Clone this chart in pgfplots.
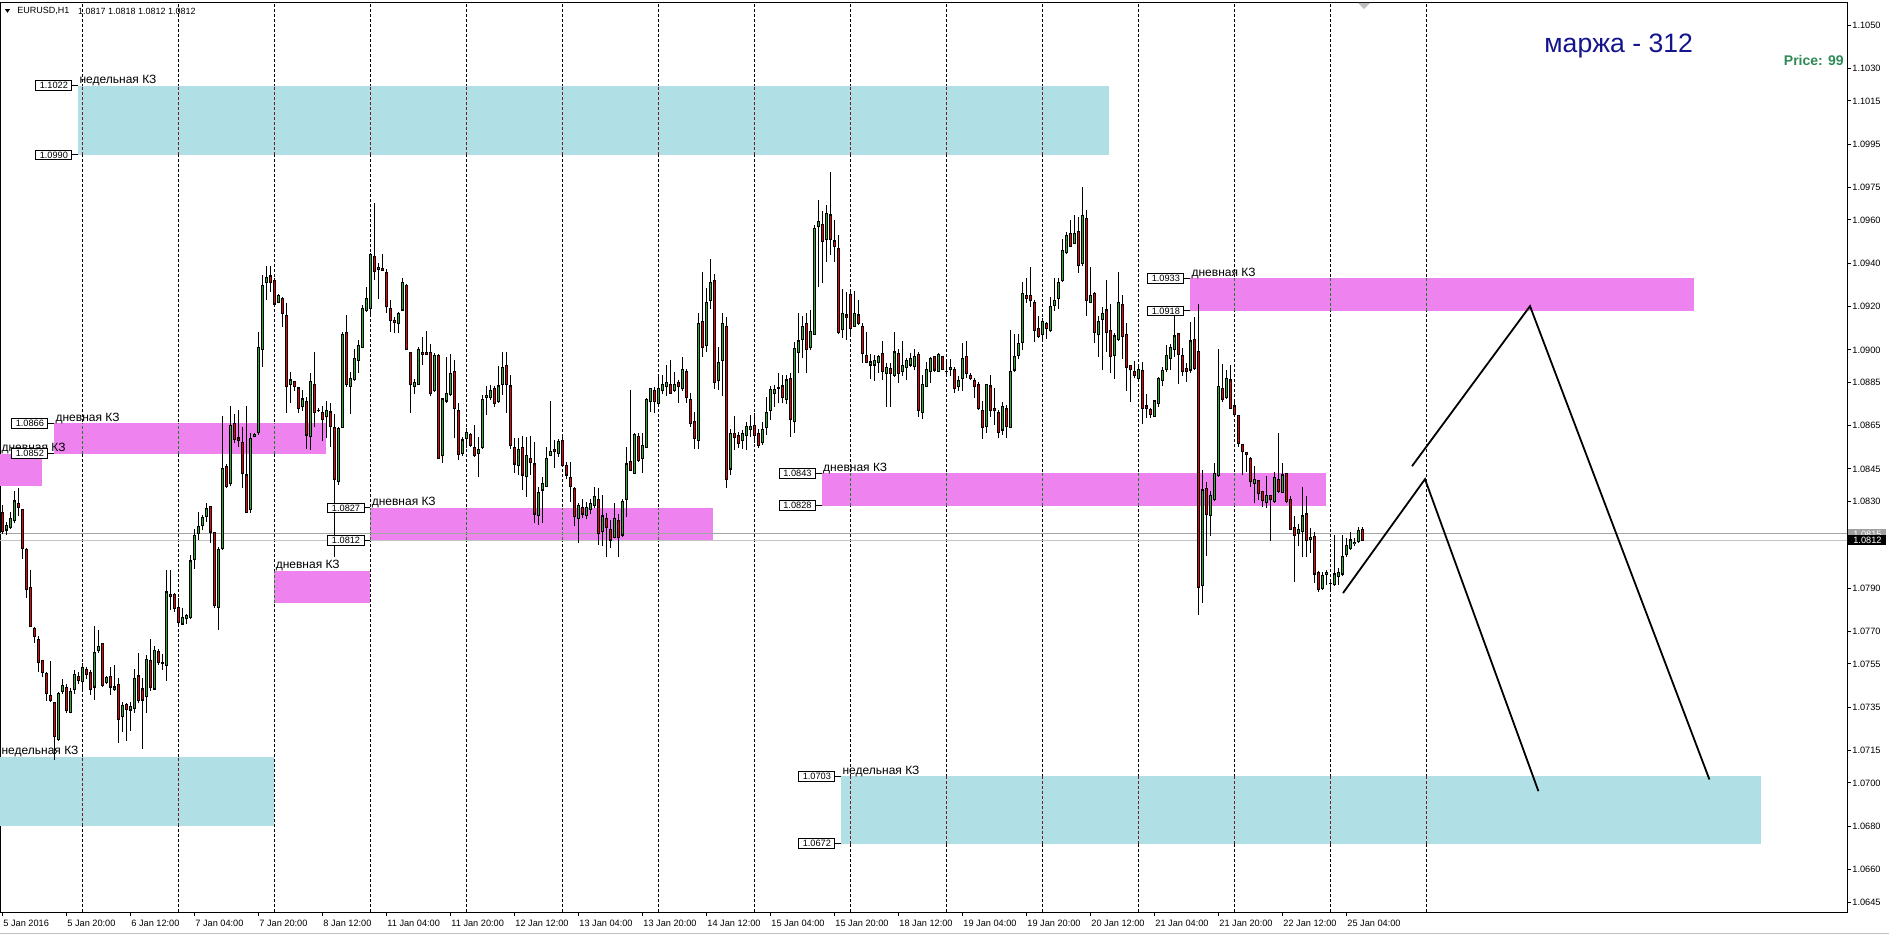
\documentclass[border=0pt]{standalone}
\usepackage{fontspec}
\setmainfont{Liberation Sans}
\usepackage{pgfplots}
\usepackage{pgfplotstable}
\pgfplotsset{compat=1.18}

\definecolor{bull}{RGB}{40,175,40}
\definecolor{bear}{RGB}{230,0,0}
\definecolor{weekzone}{RGB}{176,224,230}
\definecolor{dayzone}{RGB}{238,130,238}
\definecolor{sepweek}{RGB}{110,30,30}
\definecolor{sepday}{RGB}{30,130,30}
\definecolor{marginblue}{RGB}{20,20,140}
\definecolor{pricegreen}{RGB}{46,139,87}

% EURUSD H1 bars, i = bar number from 5 Jan 00:00 (weekend skipped)
\pgfplotstableread{
i o h l c
4 1.08248 1.08283 1.08148 1.08163
5 1.08168 1.08203 1.08143 1.08190
6 1.08179 1.08251 1.08171 1.08222
7 1.08211 1.08346 1.08200 1.08302
8 1.08291 1.08362 1.08235 1.08273
9 1.08264 1.08267 1.08036 1.08084
10 1.08076 1.08084 1.07853 1.07893
11 1.07904 1.07984 1.07718 1.07723
12 1.07714 1.07718 1.07647 1.07675
13 1.07663 1.07679 1.07512 1.07555
14 1.07564 1.07567 1.07491 1.07512
15 1.07504 1.07512 1.07380 1.07415
16 1.07405 1.07564 1.07376 1.07381
17 1.07373 1.07376 1.07106 1.07214
18 1.07202 1.07421 1.07194 1.07415
19 1.07424 1.07480 1.07411 1.07451
20 1.07440 1.07456 1.07321 1.07333
21 1.07324 1.07440 1.07321 1.07424
22 1.07432 1.07523 1.07411 1.07500
23 1.07491 1.07512 1.07456 1.07472
24 1.07467 1.07555 1.07424 1.07532
25 1.07523 1.07535 1.07480 1.07500
26 1.07512 1.07520 1.07408 1.07432
27 1.07443 1.07723 1.07383 1.07604
28 1.07612 1.07706 1.07599 1.07631
29 1.07645 1.07647 1.07443 1.07451
30 1.07464 1.07496 1.07456 1.07485
31 1.07492 1.07535 1.07408 1.07443
32 1.07430 1.07543 1.07424 1.07443
33 1.07453 1.07485 1.07186 1.07294
34 1.07305 1.07376 1.07233 1.07356
35 1.07364 1.07368 1.07194 1.07341
36 1.07337 1.07373 1.07241 1.07352
37 1.07345 1.07527 1.07321 1.07483
38 1.07494 1.07599 1.07368 1.07380
39 1.07434 1.07485 1.07157 1.07383
40 1.07399 1.07591 1.07321 1.07570
41 1.07564 1.07663 1.07424 1.07440
42 1.07434 1.07631 1.07427 1.07612
43 1.07607 1.07618 1.07543 1.07555
44 1.07556 1.07596 1.07520 1.07551
45 1.07543 1.07984 1.07472 1.07882
46 1.07872 1.07984 1.07798 1.07861
47 1.07872 1.07877 1.07790 1.07806
48 1.07810 1.07853 1.07734 1.07742
49 1.07734 1.07806 1.07731 1.07766
50 1.07758 1.07782 1.07734 1.07774
51 1.07763 1.08052 1.07758 1.08025
52 1.08031 1.08171 1.07989 1.08143
53 1.08152 1.08251 1.08124 1.08184
54 1.08187 1.08238 1.08168 1.08227
55 1.08232 1.08291 1.08206 1.08267
56 1.08275 1.08278 1.08108 1.08159
57 1.08156 1.08159 1.07806 1.07818
58 1.07809 1.08089 1.07706 1.08076
59 1.08084 1.08693 1.08076 1.08454
60 1.08461 1.08474 1.08362 1.08370
61 1.08381 1.08741 1.08370 1.08652
62 1.08658 1.08704 1.08568 1.08584
63 1.08593 1.08722 1.08553 1.08581
64 1.08573 1.08645 1.08361 1.08427
65 1.08422 1.08741 1.08248 1.08250
66 1.08261 1.08615 1.08248 1.08591
67 1.08599 1.08618 1.08596 1.08611
68 1.08618 1.09084 1.08607 1.09012
69 1.09002 1.09346 1.08922 1.09299
70 1.09310 1.09387 1.09230 1.09333
71 1.09341 1.09387 1.09269 1.09310
72 1.09322 1.09330 1.09207 1.09212
73 1.09218 1.09258 1.09215 1.09252
74 1.09238 1.09242 1.09107 1.09169
75 1.09159 1.09218 1.08710 1.08830
76 1.08838 1.08899 1.08753 1.08861
77 1.08852 1.08858 1.08812 1.08830
78 1.08824 1.08830 1.08710 1.08730
79 1.08738 1.08815 1.08719 1.08773
80 1.08762 1.08784 1.08541 1.08607
81 1.08599 1.08895 1.08538 1.08852
82 1.08841 1.08989 1.08645 1.08710
83 1.08722 1.08730 1.08715 1.08721
84 1.08711 1.08741 1.08581 1.08679
85 1.08691 1.08765 1.08591 1.08722
86 1.08713 1.08753 1.08553 1.08648
87 1.08642 1.08704 1.08045 1.08402
88 1.08394 1.08645 1.08376 1.08635
89 1.08642 1.09084 1.08638 1.09073
90 1.09081 1.09161 1.08830 1.08841
91 1.08830 1.08899 1.08704 1.08868
92 1.08864 1.09002 1.08858 1.08961
93 1.08953 1.09045 1.08895 1.09022
94 1.09012 1.09207 1.09007 1.09192
95 1.09181 1.09289 1.09176 1.09238
96 1.09192 1.09446 1.09153 1.09441
97 1.09433 1.09680 1.09322 1.09361
98 1.09372 1.09399 1.09233 1.09381
99 1.09376 1.09441 1.09369 1.09369
100 1.09359 1.09372 1.09169 1.09199
101 1.09193 1.09230 1.09084 1.09135
102 1.09135 1.09153 1.09076 1.09125
103 1.09122 1.09176 1.09076 1.09169
104 1.09184 1.09330 1.09181 1.09313
105 1.09299 1.09304 1.08999 1.09002
106 1.08989 1.08992 1.08710 1.08841
107 1.08833 1.08864 1.08796 1.08850
108 1.08842 1.09015 1.08838 1.09002
109 1.08989 1.09061 1.08930 1.08981
110 1.08989 1.09089 1.08981 1.08981
111 1.08987 1.09027 1.08788 1.08799
112 1.08812 1.08987 1.08807 1.08972
113 1.08972 1.08981 1.08494 1.08499
114 1.08511 1.08776 1.08479 1.08773
115 1.08764 1.08969 1.08753 1.08799
116 1.08796 1.08981 1.08787 1.08892
117 1.08899 1.08953 1.08591 1.08730
118 1.08722 1.08753 1.08491 1.08515
119 1.08522 1.08599 1.08510 1.08584
120 1.08591 1.08637 1.08545 1.08619
121 1.08610 1.08614 1.08553 1.08560
122 1.08550 1.08653 1.08507 1.08514
123 1.08522 1.08599 1.08411 1.08542
124 1.08550 1.08791 1.08541 1.08771
125 1.08781 1.08833 1.08699 1.08791
126 1.08781 1.08838 1.08768 1.08811
127 1.08822 1.08833 1.08738 1.08753
128 1.08762 1.08925 1.08756 1.08833
129 1.08842 1.08988 1.08791 1.08919
130 1.08928 1.08988 1.08710 1.08842
131 1.08833 1.08884 1.08541 1.08560
132 1.08550 1.08591 1.08430 1.08473
133 1.08464 1.08591 1.08422 1.08541
134 1.08550 1.08602 1.08353 1.08422
135 1.08414 1.08599 1.08322 1.08513
136 1.08499 1.08602 1.08422 1.08480
137 1.08473 1.08574 1.08202 1.08242
138 1.08233 1.08368 1.08191 1.08342
139 1.08353 1.08411 1.08202 1.08384
140 1.08371 1.08550 1.08368 1.08499
141 1.08514 1.08764 1.08510 1.08530
142 1.08541 1.08584 1.08453 1.08530
143 1.08522 1.08587 1.08507 1.08576
144 1.08582 1.08611 1.08460 1.08468
145 1.08464 1.08484 1.08402 1.08422
146 1.08411 1.08484 1.08299 1.08368
147 1.08360 1.08368 1.08186 1.08230
148 1.08222 1.08291 1.08110 1.08280
149 1.08273 1.08310 1.08222 1.08242
150 1.08233 1.08299 1.08217 1.08273
151 1.08264 1.08310 1.08242 1.08291
152 1.08280 1.08365 1.08268 1.08322
153 1.08310 1.08360 1.08099 1.08153
154 1.08160 1.08330 1.08094 1.08233
155 1.08222 1.08245 1.08042 1.08180
156 1.08171 1.08214 1.08083 1.08122
157 1.08134 1.08291 1.08130 1.08222
158 1.08211 1.08242 1.08042 1.08134
159 1.08145 1.08310 1.08137 1.08299
160 1.08310 1.08550 1.08230 1.08473
161 1.08484 1.08814 1.08445 1.08445
162 1.08430 1.08617 1.08425 1.08611
163 1.08602 1.08614 1.08484 1.08491
164 1.08499 1.08617 1.08430 1.08560
165 1.08550 1.08776 1.08545 1.08771
166 1.08761 1.08822 1.08714 1.08822
167 1.08811 1.08830 1.08710 1.08761
168 1.08753 1.08873 1.08745 1.08822
169 1.08811 1.08884 1.08796 1.08842
170 1.08830 1.08930 1.08787 1.08848
171 1.08842 1.08953 1.08796 1.08799
172 1.08814 1.08899 1.08807 1.08842
173 1.08848 1.08861 1.08753 1.08830
174 1.08822 1.08965 1.08811 1.08910
175 1.08899 1.08910 1.08753 1.08781
176 1.08772 1.08800 1.08646 1.08661
177 1.08669 1.08715 1.08541 1.08592
178 1.08581 1.09169 1.08541 1.09123
179 1.09130 1.09361 1.08969 1.09012
180 1.09020 1.09284 1.08989 1.09218
181 1.09227 1.09418 1.09189 1.09312
182 1.09320 1.09350 1.08820 1.08850
183 1.08858 1.09015 1.08815 1.08943
184 1.08950 1.09169 1.08789 1.09123
185 1.09107 1.09154 1.08360 1.08400
186 1.08450 1.08633 1.08420 1.08612
187 1.08612 1.08695 1.08538 1.08596
188 1.08603 1.08623 1.08546 1.08569
189 1.08581 1.08630 1.08541 1.08612
190 1.08603 1.08669 1.08538 1.08646
191 1.08633 1.08700 1.08599 1.08646
192 1.08652 1.08707 1.08569 1.08603
193 1.08612 1.08633 1.08546 1.08559
194 1.08572 1.08669 1.08561 1.08633
195 1.08643 1.08784 1.08607 1.08712
196 1.08720 1.08833 1.08676 1.08815
197 1.08800 1.08838 1.08738 1.08815
198 1.08821 1.08892 1.08753 1.08826
199 1.08833 1.08884 1.08753 1.08781
200 1.08772 1.08884 1.08750 1.08861
201 1.08869 1.08895 1.08599 1.08680
202 1.08669 1.09038 1.08618 1.09005
203 1.08989 1.09169 1.08892 1.09041
204 1.09046 1.09157 1.08961 1.09110
205 1.09123 1.09169 1.08892 1.09003
206 1.09012 1.09184 1.09000 1.09084
207 1.09072 1.09577 1.09069 1.09561
208 1.09569 1.09692 1.09289 1.09591
209 1.09581 1.09643 1.09307 1.09500
210 1.09511 1.09669 1.09407 1.09631
211 1.09623 1.09821 1.09438 1.09511
212 1.09503 1.09600 1.09407 1.09477
213 1.09469 1.09531 1.09072 1.09080
214 1.09092 1.09280 1.09053 1.09169
215 1.09161 1.09269 1.09046 1.09150
216 1.09254 1.09277 1.09069 1.09100
217 1.09110 1.09274 1.09107 1.09169
218 1.09161 1.09230 1.09115 1.09123
219 1.09110 1.09126 1.08938 1.08982
220 1.08972 1.09084 1.08938 1.08943
221 1.08930 1.08982 1.08865 1.08944
222 1.08930 1.08978 1.08858 1.08953
223 1.08943 1.08978 1.08895 1.08969
224 1.08982 1.09043 1.08861 1.08900
225 1.08892 1.08938 1.08738 1.08920
226 1.08912 1.08938 1.08738 1.08892
227 1.08883 1.09083 1.08877 1.08990
228 1.08982 1.09003 1.08849 1.08892
229 1.08900 1.09043 1.08880 1.08929
230 1.08920 1.08961 1.08861 1.08953
231 1.08930 1.08985 1.08923 1.08961
232 1.08923 1.09003 1.08907 1.08969
233 1.08980 1.08991 1.08691 1.08722
234 1.08711 1.08883 1.08679 1.08840
235 1.08830 1.08945 1.08827 1.08910
236 1.08899 1.08968 1.08848 1.08960
237 1.08968 1.08974 1.08899 1.08907
238 1.08899 1.08984 1.08897 1.08979
239 1.08968 1.08971 1.08907 1.08910
240 1.08900 1.08945 1.08876 1.08901
241 1.08910 1.08960 1.08879 1.08919
242 1.08910 1.08922 1.08799 1.08820
243 1.08830 1.08879 1.08811 1.08860
244 1.08867 1.09033 1.08811 1.08960
245 1.08971 1.09041 1.08868 1.08891
246 1.08883 1.08894 1.08860 1.08867
247 1.08860 1.08868 1.08780 1.08830
248 1.08840 1.08853 1.08722 1.08728
249 1.08722 1.08763 1.08590 1.08640
250 1.08648 1.08842 1.08617 1.08840
251 1.08833 1.08883 1.08691 1.08719
252 1.08731 1.08822 1.08653 1.08719
253 1.08711 1.08722 1.08591 1.08619
254 1.08630 1.08760 1.08607 1.08740
255 1.08731 1.08745 1.08591 1.08648
256 1.08640 1.09091 1.08637 1.08900
257 1.08907 1.09073 1.08899 1.08971
258 1.08976 1.09073 1.08959 1.09030
259 1.09036 1.09314 1.08999 1.09261
260 1.09253 1.09330 1.09217 1.09236
261 1.09251 1.09381 1.09199 1.09230
262 1.09219 1.09230 1.09037 1.09088
263 1.09099 1.09156 1.09053 1.09061
264 1.09073 1.09145 1.09045 1.09133
265 1.09122 1.09130 1.09048 1.09097
266 1.09088 1.09242 1.09084 1.09202
267 1.09207 1.09330 1.09181 1.09230
268 1.09236 1.09334 1.09191 1.09311
269 1.09319 1.09510 1.09314 1.09461
270 1.09450 1.09545 1.09445 1.09530
271 1.09538 1.09599 1.09473 1.09479
272 1.09491 1.09622 1.09488 1.09538
273 1.09548 1.09615 1.09356 1.09391
274 1.09399 1.09750 1.09387 1.09622
275 1.09607 1.09648 1.09157 1.09230
276 1.09219 1.09381 1.09217 1.09251
277 1.09261 1.09268 1.09030 1.09079
278 1.09070 1.09156 1.08968 1.09133
279 1.09141 1.09196 1.08907 1.09168
280 1.09184 1.09322 1.08991 1.09079
281 1.09091 1.09211 1.08891 1.08971
282 1.08976 1.09076 1.08867 1.09064
283 1.09048 1.09361 1.09042 1.09219
284 1.09211 1.09253 1.08960 1.09061
285 1.09073 1.09122 1.08811 1.08919
286 1.08928 1.08930 1.08760 1.08910
287 1.08902 1.08950 1.08868 1.08882
288 1.08868 1.08930 1.08860 1.08910
289 1.08903 1.08946 1.08658 1.08730
290 1.08741 1.08796 1.08684 1.08730
291 1.08723 1.08730 1.08684 1.08700
292 1.08692 1.08769 1.08689 1.08764
293 1.08753 1.08873 1.08738 1.08869
294 1.08858 1.08920 1.08833 1.08903
295 1.08910 1.09023 1.08900 1.08972
296 1.08961 1.09027 1.08907 1.09012
297 1.09003 1.09177 1.08966 1.09064
298 1.09074 1.09080 1.08841 1.08980
299 1.08972 1.09007 1.08880 1.08900
300 1.08912 1.08938 1.08853 1.08900
301 1.08907 1.09130 1.08892 1.09041
302 1.09049 1.09150 1.08907 1.08912
303 1.08992 1.09212 1.07775 1.07904
304 1.07910 1.08446 1.07830 1.08353
305 1.08361 1.08392 1.08049 1.08238
306 1.08233 1.08346 1.08141 1.08326
307 1.08307 1.08476 1.08304 1.08430
308 1.08418 1.09003 1.08412 1.08830
309 1.08823 1.08935 1.08761 1.08772
310 1.08781 1.08907 1.08772 1.08869
311 1.08861 1.08930 1.08726 1.08730
312 1.08741 1.08761 1.08695 1.08700
313 1.08695 1.08700 1.08553 1.08569
314 1.08561 1.08566 1.08422 1.08530
315 1.08526 1.08530 1.08438 1.08515
316 1.08499 1.08507 1.08369 1.08392
317 1.08384 1.08464 1.08292 1.08403
318 1.08396 1.08399 1.08307 1.08335
319 1.08346 1.08350 1.08273 1.08304
320 1.08295 1.08418 1.08269 1.08326
321 1.08326 1.08330 1.08119 1.08310
322 1.08299 1.08438 1.08292 1.08412
323 1.08403 1.08618 1.08341 1.08346
324 1.08341 1.08476 1.08338 1.08422
325 1.08430 1.08433 1.08292 1.08299
326 1.08310 1.08326 1.08169 1.08172
327 1.08181 1.08233 1.07930 1.08141
328 1.08153 1.08196 1.08092 1.08172
329 1.08161 1.08369 1.08042 1.08233
330 1.08242 1.08326 1.08042 1.08119
331 1.08126 1.08176 1.08061 1.08135
332 1.08138 1.08161 1.07922 1.07965
333 1.07972 1.07981 1.07884 1.07895
334 1.07899 1.07976 1.07892 1.07956
335 1.07962 1.07984 1.07915 1.07972
336 1.07922 1.07938 1.07884 1.07923
337 1.07915 1.08146 1.07910 1.07965
338 1.07953 1.07992 1.07915 1.07972
339 1.07965 1.08146 1.07956 1.08046
340 1.08053 1.08130 1.08042 1.08095
341 1.08084 1.08161 1.08076 1.08122
342 1.08104 1.08130 1.08095 1.08110
343 1.08115 1.08181 1.08110 1.08164
344 1.08170 1.08180 1.08120 1.08120
}\candles

\newcommand{\tfont}{\fontsize{4.6}{5}\selectfont}
\newcommand{\lfont}{\fontsize{6}{7}\selectfont}
% zone: x1, x2, top, bottom, colour
\newcommand{\zone}[5]{\fill[#5] (axis cs:#1,#3) rectangle (axis cs:#2,#4);}
\newcommand{\zonelabel}[3]{\node[anchor=base west, inner sep=0pt, font=\lfont, xshift=0.6pt, yshift=1pt] at (axis cs:#1,#2) {#3};}
\newcommand{\pricebox}[3]{\draw[line width=0.5pt] (axis cs:#1,#2) -- ++(-2.8pt,0pt)
  node[anchor=east, draw, fill=white, line width=0.5pt, inner xsep=2pt, inner ysep=0.8pt, font=\tfont] {#3};}
\newcommand{\seps}[4]{\pgfplotsinvokeforeach{#1}{\draw[#4, line width=0.5pt, dash pattern=on 1.5pt off 1pt] (axis cs:##1,#2) -- (axis cs:##1,#3);}}
\pgfplotsset{candle/.style={draw=none, no markers, forget plot,
  error bars/.cd, y dir=plus, y explicit, error mark=none}}

\begin{document}
\begin{tikzpicture}
\fill[white] (0,-12.5pt) rectangle (944.5pt,456pt);
\path[use as bounding box] (0,-12.5pt) rectangle (944.5pt,456pt);
\begin{axis}[
  at={(0,0)}, anchor=south west,
  scale only axis, width=923.5pt, height=454.5pt,
  xmin=3.45, xmax=465.2, ymin=1.06404, ymax=1.10602,
  axis line style={line width=0.5pt},
  tick align=outside, xtick pos=bottom, ytick pos=right, yticklabel pos=right,
  major tick length=2pt, tick style={black, line width=0.5pt},
  scaled ticks=false,
  xtick={4,20,...,340},
  xticklabels={5 Jan 2016, 5 Jan 20:00, 6 Jan 12:00, 7 Jan 04:00, 7 Jan 20:00, 8 Jan 12:00,
    11 Jan 04:00, 11 Jan 20:00, 12 Jan 12:00, 13 Jan 04:00, 13 Jan 20:00, 14 Jan 12:00,
    15 Jan 04:00, 15 Jan 20:00, 18 Jan 12:00, 19 Jan 04:00, 19 Jan 20:00, 20 Jan 12:00,
    21 Jan 04:00, 21 Jan 20:00, 22 Jan 12:00, 25 Jan 04:00},
  xticklabel style={font=\tfont, anchor=north west, inner sep=0pt, xshift=0.4pt, yshift=-1.8pt},
  ytick={1.0645,1.0660,1.0680,1.0700,1.0715,1.0735,1.0755,1.0770,1.0790,1.0830,1.0845,
    1.0865,1.0885,1.0900,1.0920,1.0940,1.0960,1.0975,1.0995,1.1015,1.1030,1.1050},
  yticklabel style={font=\tfont, anchor=west, inner sep=0pt, xshift=0.5pt},
  yticklabel={\pgfmathprintnumber[fixed,fixed zerofill,precision=4,assume math mode=true]{\tick}},
  extra x ticks={24,48,...,360},
  extra x tick labels={},
  extra x tick style={grid=major, major tick length=0pt,
    major grid style={black, line width=0.5pt, dash pattern=on 1.5pt off 1pt}},
]
% weekly zones
\zone{22.95}{280.6}{1.1022}{1.0990}{weekzone}
\zone{0}{71.83}{1.0712}{1.0680}{weekzone}
\zone{213.7}{443.8}{1.0703}{1.0672}{weekzone}
% daily zones
\zone{16.95}{84.83}{1.0866}{1.0852}{dayzone}
\zone{0}{13.88}{1.0852}{1.0837}{dayzone}
\zone{96}{181.75}{1.0827}{1.0812}{dayzone}
\zone{72}{96}{1.0798}{1.0783}{dayzone}
\zone{208.85}{334.9}{1.0843}{1.0828}{dayzone}
\zone{300.95}{426.9}{1.0933}{1.0918}{dayzone}
% day separators seen through the zones
\seps{24,48,...,264}{1.0990}{1.1022}{sepweek}
\seps{24,48}{1.0680}{1.0712}{sepweek}
\seps{216,240,...,360}{1.0672}{1.0703}{sepweek}
\seps{24,48,72}{1.0852}{1.0866}{sepday}
\seps{96,120,144,168}{1.0812}{1.0827}{sepday}
\seps{72}{1.0783}{1.0798}{sepday}
\seps{216,240,...,312}{1.0828}{1.0843}{sepday}
\seps{312,336,360}{1.0918}{1.0933}{sepday}
% ask / bid
\addplot[color={rgb,255:red,165;green,165;blue,165}, line width=0.5pt] coordinates {(3.45,1.0815) (465.2,1.0815)};
\addplot[color={rgb,255:red,195;green,195;blue,195}, line width=0.5pt] coordinates {(3.45,1.0812) (465.2,1.0812)};
% wicks
\addplot[candle, error bar style={draw=black, line width=0.5pt}]
  table[x=i, y=l, y error plus expr=\thisrow{h}-\thisrow{l}] {\candles};
% body outlines
\addplot[candle, error bar style={draw=black, line width=1.5pt}]
  table[x=i, y expr={min(\thisrow{o},\thisrow{c})-0.000025},
    y error plus expr={abs(\thisrow{c}-\thisrow{o})+0.00005}] {\candles};
% bull bodies
\addplot[candle, error bar style={draw=bull, line width=0.5pt}]
  table[x=i, y expr={\thisrow{o}+0.000025},
    y error plus expr={max(\thisrow{c}-\thisrow{o}-0.00005,0)}] {\candles};
% bear bodies
\addplot[candle, error bar style={draw=bear, line width=0.5pt}]
  table[x=i, y expr={\thisrow{c}+0.000025},
    y error plus expr={max(\thisrow{o}-\thisrow{c}-0.00005,0)}] {\candles};
% projected path drawn by hand
\addplot[black, line width=0.9pt] coordinates {(339.2,1.07877) (359.7,1.08403) (388.05,1.06962)};
\addplot[black, line width=0.9pt] coordinates {(356.45,1.08463) (385.95,1.09202) (430.8,1.07016)};
% zone labels and price tags
\zonelabel{22.95}{1.1022}{недельная КЗ}
\pricebox{22.95}{1.1022}{1.1022}
\pricebox{22.95}{1.0990}{1.0990}
\zonelabel{3.45}{1.0712}{недельная КЗ}
\zonelabel{213.7}{1.0703}{недельная КЗ}
\pricebox{213.7}{1.0703}{1.0703}
\pricebox{213.7}{1.0672}{1.0672}
\zonelabel{16.95}{1.0866}{дневная КЗ}
\pricebox{16.95}{1.0866}{1.0866}
\zonelabel{3.45}{1.0852}{дневная КЗ}
\pricebox{16.95}{1.0852}{1.0852}
\zonelabel{96}{1.0827}{дневная КЗ}
\pricebox{96}{1.0827}{1.0827}
\pricebox{96}{1.0812}{1.0812}
\zonelabel{72}{1.0798}{дневная КЗ}
\zonelabel{208.85}{1.0843}{дневная КЗ}
\pricebox{208.85}{1.0843}{1.0843}
\pricebox{208.85}{1.0828}{1.0828}
\zonelabel{300.95}{1.0933}{дневная КЗ}
\pricebox{300.95}{1.0933}{1.0933}
\pricebox{300.95}{1.0918}{1.0918}
\coordinate (ask) at (axis cs:465.2,1.0815);
\coordinate (bid) at (axis cs:465.2,1.0812);
\end{axis}
% price tags on the right scale
\node[anchor=west, fill={rgb,255:red,160;green,160;blue,160}, text=white, font=\tfont,
  inner xsep=1pt, inner ysep=0.6pt, minimum width=19pt] at ([xshift=0.5pt]ask) {1.0815};
\node[anchor=west, fill=black, text=white, font=\tfont,
  inner xsep=1pt, inner ysep=0.9pt, minimum width=19pt] at ([xshift=0.5pt]bid) {1.0812};
% header
\fill (2.5pt,451.4pt) -- (5pt,451.4pt) -- (3.75pt,449.6pt) -- cycle;
\node[anchor=west, inner sep=0pt, font=\fontsize{4.5}{5}\selectfont] at (8.5pt,450.5pt) {EURUSD,H1};
\node[anchor=west, inner sep=0pt, font=\fontsize{4.5}{5}\selectfont] at (38.8pt,450.5pt) {1.0817 1.0818 1.0812 1.0812};
\fill[gray!50] (679pt,454.5pt) -- (685pt,454.5pt) -- (682pt,451.5pt) -- cycle;
\node[anchor=base west, inner sep=0pt, text=marginblue, font=\fontsize{13.3}{15}\selectfont] at (772pt,429.6pt) {маржа - 312};
\node[anchor=base east, inner sep=0pt, text=pricegreen, font=\bfseries\fontsize{7}{8}\selectfont] at (922pt,423pt) {Price: 99};
\draw[gray!50, line width=0.5pt] (0,-10.5pt) -- (944.5pt,-10.5pt);
\end{tikzpicture}
\end{document}
